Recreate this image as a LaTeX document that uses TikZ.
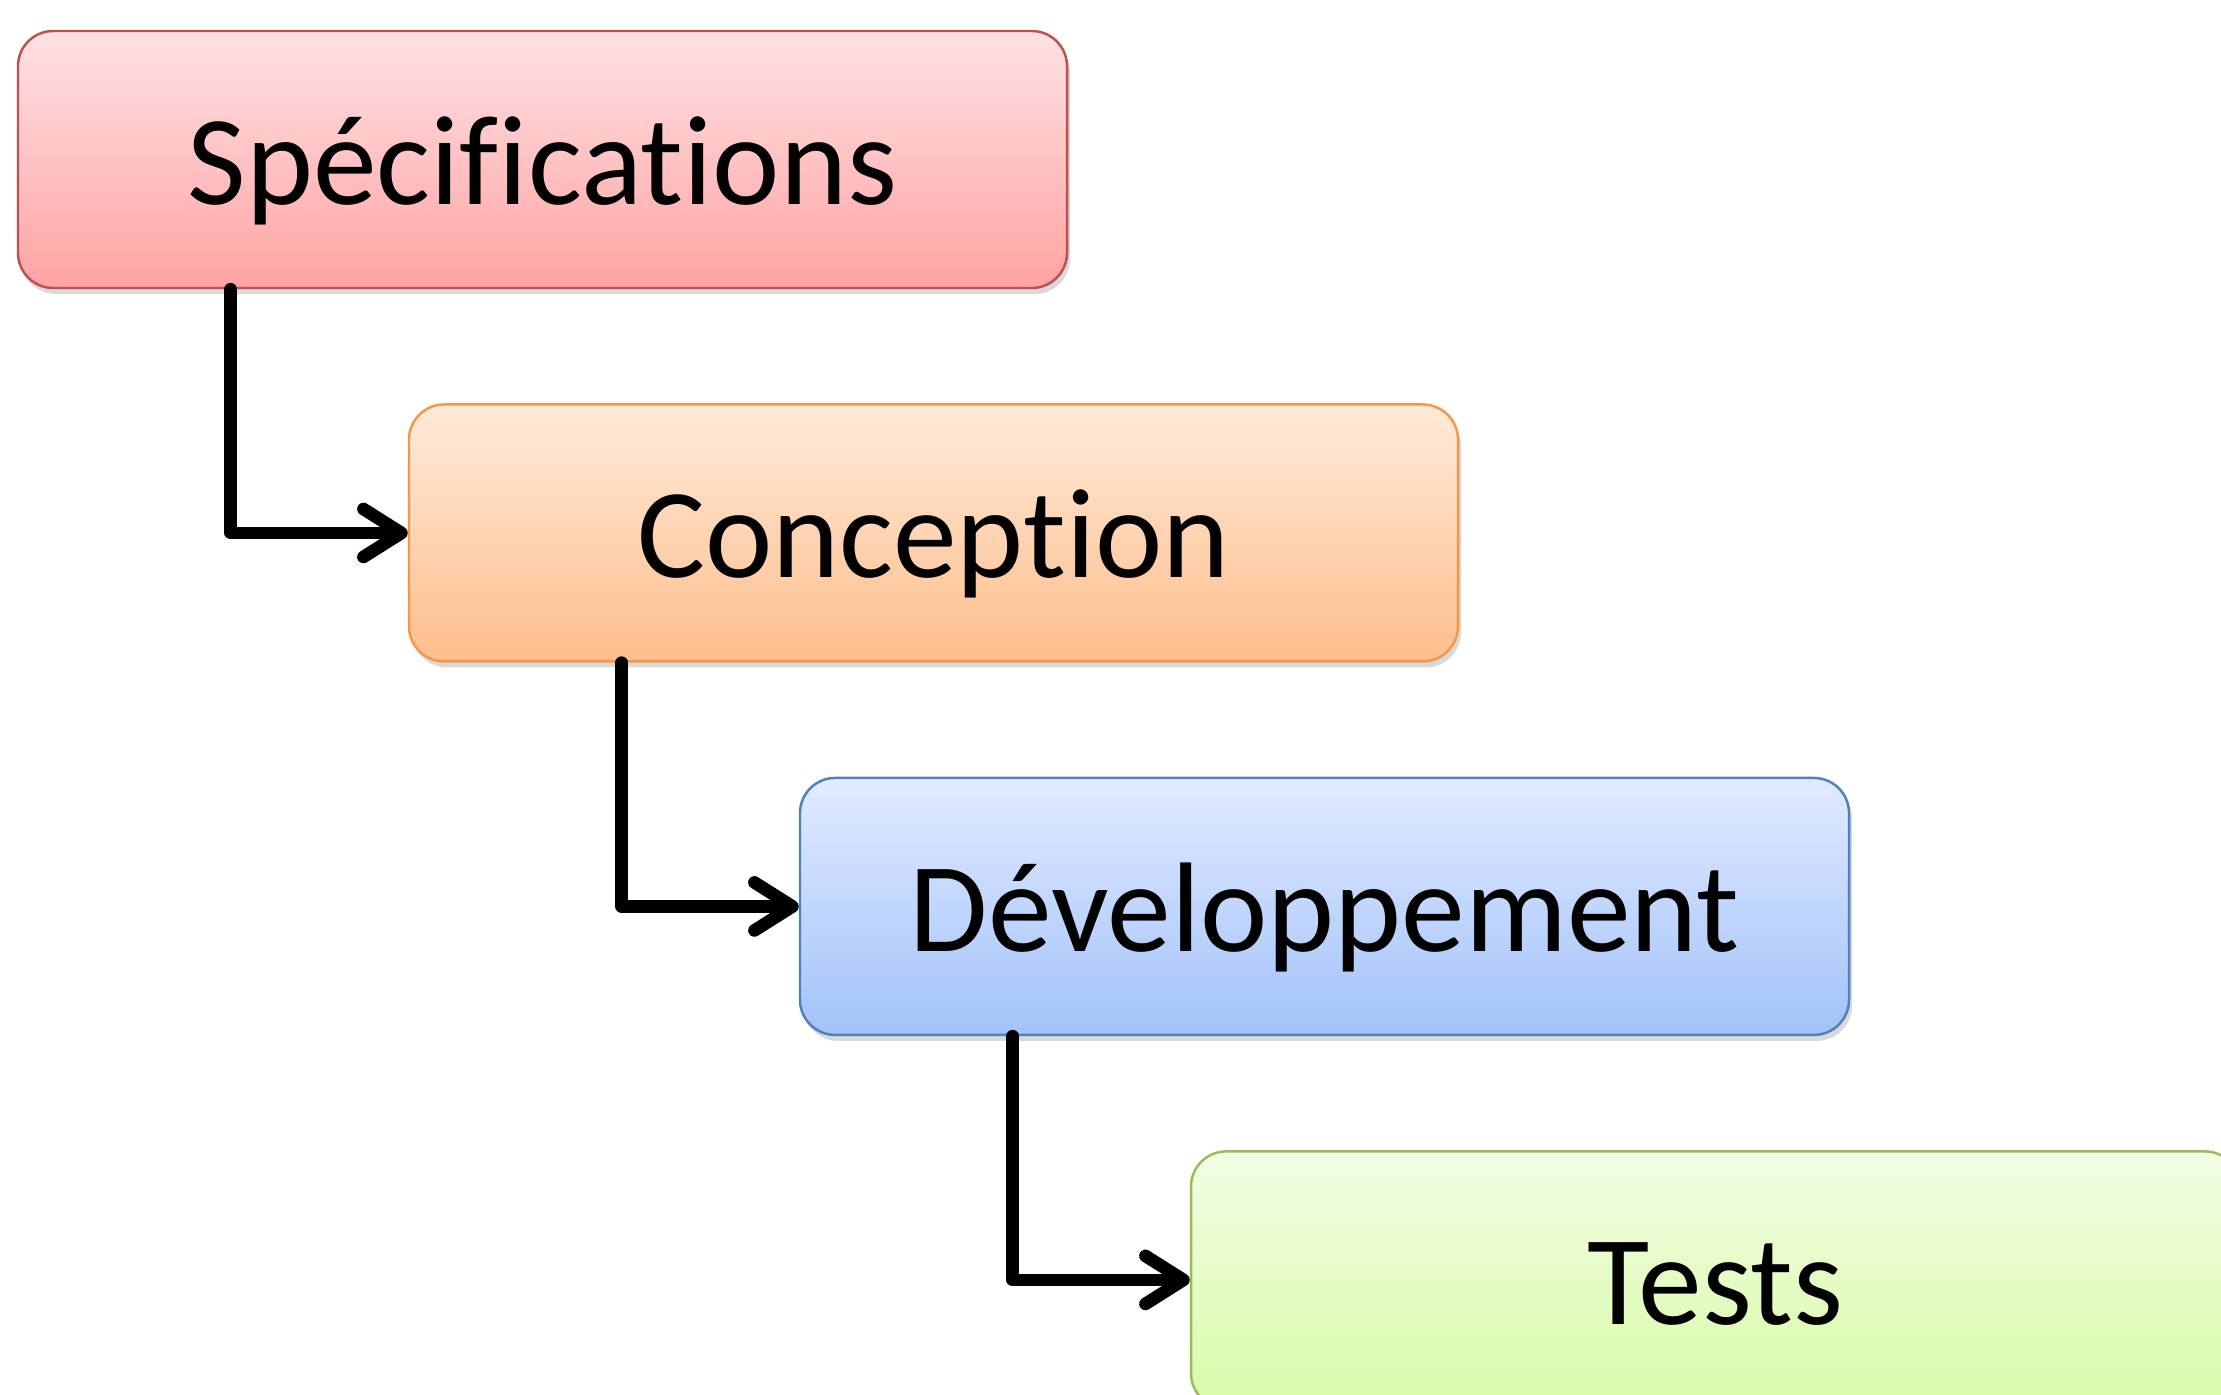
\documentclass[tikz,border=0pt]{standalone}
\usepackage{fontspec}
\setmainfont{Carlito}[Ligatures=NoCommon]
\usepackage{tikz}
\usetikzlibrary{positioning}
\usetikzlibrary{arrows.meta}
\usetikzlibrary{shadows}

\definecolor{specTop}{RGB}{255,226,228}
\definecolor{specBot}{RGB}{255,163,164}
\definecolor{specLine}{RGB}{192,80,77}
\definecolor{concTop}{RGB}{255,234,218}
\definecolor{concBot}{RGB}{254,190,140}
\definecolor{concLine}{RGB}{247,150,70}
\definecolor{devTop}{RGB}{226,235,255}
\definecolor{devBot}{RGB}{162,194,250}
\definecolor{devLine}{RGB}{79,129,189}
\definecolor{testTop}{RGB}{243,253,228}
\definecolor{testBot}{RGB}{216,250,168}
\definecolor{testLine}{RGB}{155,187,89}

\begin{document}
\begin{tikzpicture}[
    node distance=1.14cm,
    box/.style={
        draw,
        rounded corners=10pt,
        line width=0.7pt,
        minimum width=10.49cm,
        minimum height=2.57cm,
        text height=1.2cm,
        text depth=0.3cm,
        align=center,
        font=\fontsize{36.3}{44}\selectfont,
        drop shadow={shadow xshift=0.03cm, shadow yshift=-0.06cm, opacity=0.3}
    },
    flow/.style={
        -{Straight Barb[length=0.38cm, width=0.48cm, round]},
        line width=3.6pt,
        line join=round,
        line cap=round
    }
]
\useasboundingbox (0,0) rectangle (22.21,-13.94);

% Main nodes
\node[box, top color=specTop, bottom color=specBot, draw=specLine] (spec) at (5.425,-1.595) {Spécifications};

\node[box, top color=concTop, bottom color=concBot, draw=concLine, below=of spec, xshift=3.91cm] (conc) {Conception};

\node[box, top color=devTop, bottom color=devBot, draw=devLine, below=of conc, xshift=3.91cm] (dev) {Développement};

\node[box, top color=testTop, bottom color=testBot, draw=testLine, below=of dev, xshift=3.91cm] (tests) {Tests};

% Arrows
\draw[flow] ([xshift=2.14cm]spec.south west) |- (conc.west);
\draw[flow] ([xshift=2.14cm]conc.south west) |- (dev.west);
\draw[flow] ([xshift=2.14cm]dev.south west) |- (tests.west);

\end{tikzpicture}
\end{document}
